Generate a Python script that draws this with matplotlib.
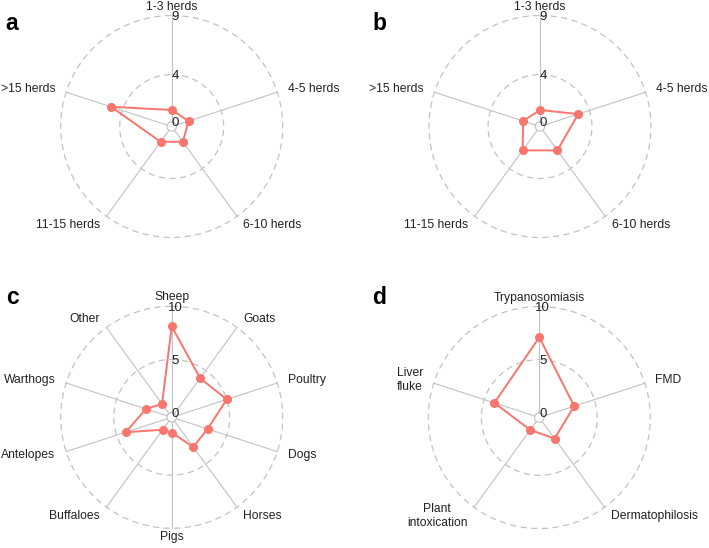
import numpy as np
import matplotlib
matplotlib.use("Agg")
import matplotlib.pyplot as plt

plt.rcParams['font.family'] = ['Liberation Sans', 'DejaVu Sans']

# Data
herd_labels = ["1-3 herds", "4-5 herds", "6-10 herds", "11-15 herds", ">15 herds"]
a_values = [1.0, 1.1, 1.2, 1.2, 5.0]
b_values = [1.0, 3.0, 2.1, 2.1, 1.1]

species_labels = ["Sheep", "Goats", "Poultry", "Dogs", "Horses", "Pigs",
                  "Buffaloes", "Antelopes", "Warthogs", "Other"]
c_values = [8.1, 4.1, 5.0, 3.1, 3.0, 1.0, 1.0, 4.1, 2.1, 1.1]

disease_labels = ["Trypanosomiasis", "FMD", "Dermatophilosis",
                  "Plant\nintoxication", "Liver\nfluke"]
d_values = [7.1, 3.0, 2.0, 1.0, 4.0]

herd_grid = [0, 4, 9]
other_grid = [0, 5, 10]

W, H = 709, 548
R = 111  # outer radius in px
line_col = '#F8766D'
grid_col = '#c2c2c2'

fig = plt.figure(figsize=(W / 100, H / 100), dpi=100)


def radar(cx, cy, labels, values, grid, origin):
    ax = fig.add_axes([(cx - R) / W, (H - cy - R) / H, 2 * R / W, 2 * R / H],
                      projection='polar')
    ax.set_theta_zero_location('N')
    ax.set_theta_direction(-1)
    gmin, gmid, gmax = grid
    ax.set_ylim(gmin, gmax)
    ax.set_rorigin(origin)
    ax.set_axis_off()

    n = len(labels)
    theta = np.arange(n) * 2 * np.pi / n
    full = np.linspace(0, 2 * np.pi, 300)

    # grid circles
    for g in (gmid, gmax):
        ax.plot(full, np.full_like(full, g), color=grid_col, lw=0.9,
                ls=(0, (5, 3.5)), clip_on=False, zorder=1)
    ax.plot(full, np.full_like(full, gmin), color=grid_col, lw=0.8,
            clip_on=False, zorder=1)

    # spokes
    for t in theta:
        ax.plot([t, t], [gmin, gmax], color=grid_col, lw=0.8, clip_on=False, zorder=1)

    # grid value labels
    for g in grid:
        ax.annotate(str(g), xy=(0, g), xytext=(2.5, -1.2), textcoords='offset points',
                    ha='center', va='center', fontsize=9.5, color='#222222', zorder=3)

    # axis labels
    for t, lab in zip(theta, labels):
        sx = np.sin(t)
        if sx > 0.05:
            ha, off = 'left', 1.1
        elif sx < -0.05:
            ha, off = 'right', 1.1
        else:
            ha, off = 'center', 1.08
        lab_r = origin + off * (gmax - origin)
        ax.text(t, lab_r, lab, ha=ha, va='center', fontsize=8.7,
                color='#222222', multialignment='center', clip_on=False)

    # data polygon
    th = np.append(theta, theta[0])
    vv = np.append(values, values[0])
    ax.plot(th, vv, color=line_col, lw=1.4, zorder=4, clip_on=False)
    ax.plot(theta, values, 'o', color=line_col, ms=5.5, zorder=5, clip_on=False)
    return ax


radar(171.7, 126.5, herd_labels, a_values, herd_grid, -0.4)
radar(540.0, 126.5, herd_labels, b_values, herd_grid, -0.4)
radar(171.7, 417.3, species_labels, c_values, other_grid, -0.45)
radar(539.3, 417.5, disease_labels, d_values, other_grid, -0.45)

for letter, (px, py) in zip("abcd", [(12, 24), (379, 24), (12, 298), (379, 298)]):
    fig.text(px / W, 1 - py / H, letter, fontsize=16.5, fontweight='bold',
             ha='center', va='center')

fig.savefig("out.png", dpi=100)
